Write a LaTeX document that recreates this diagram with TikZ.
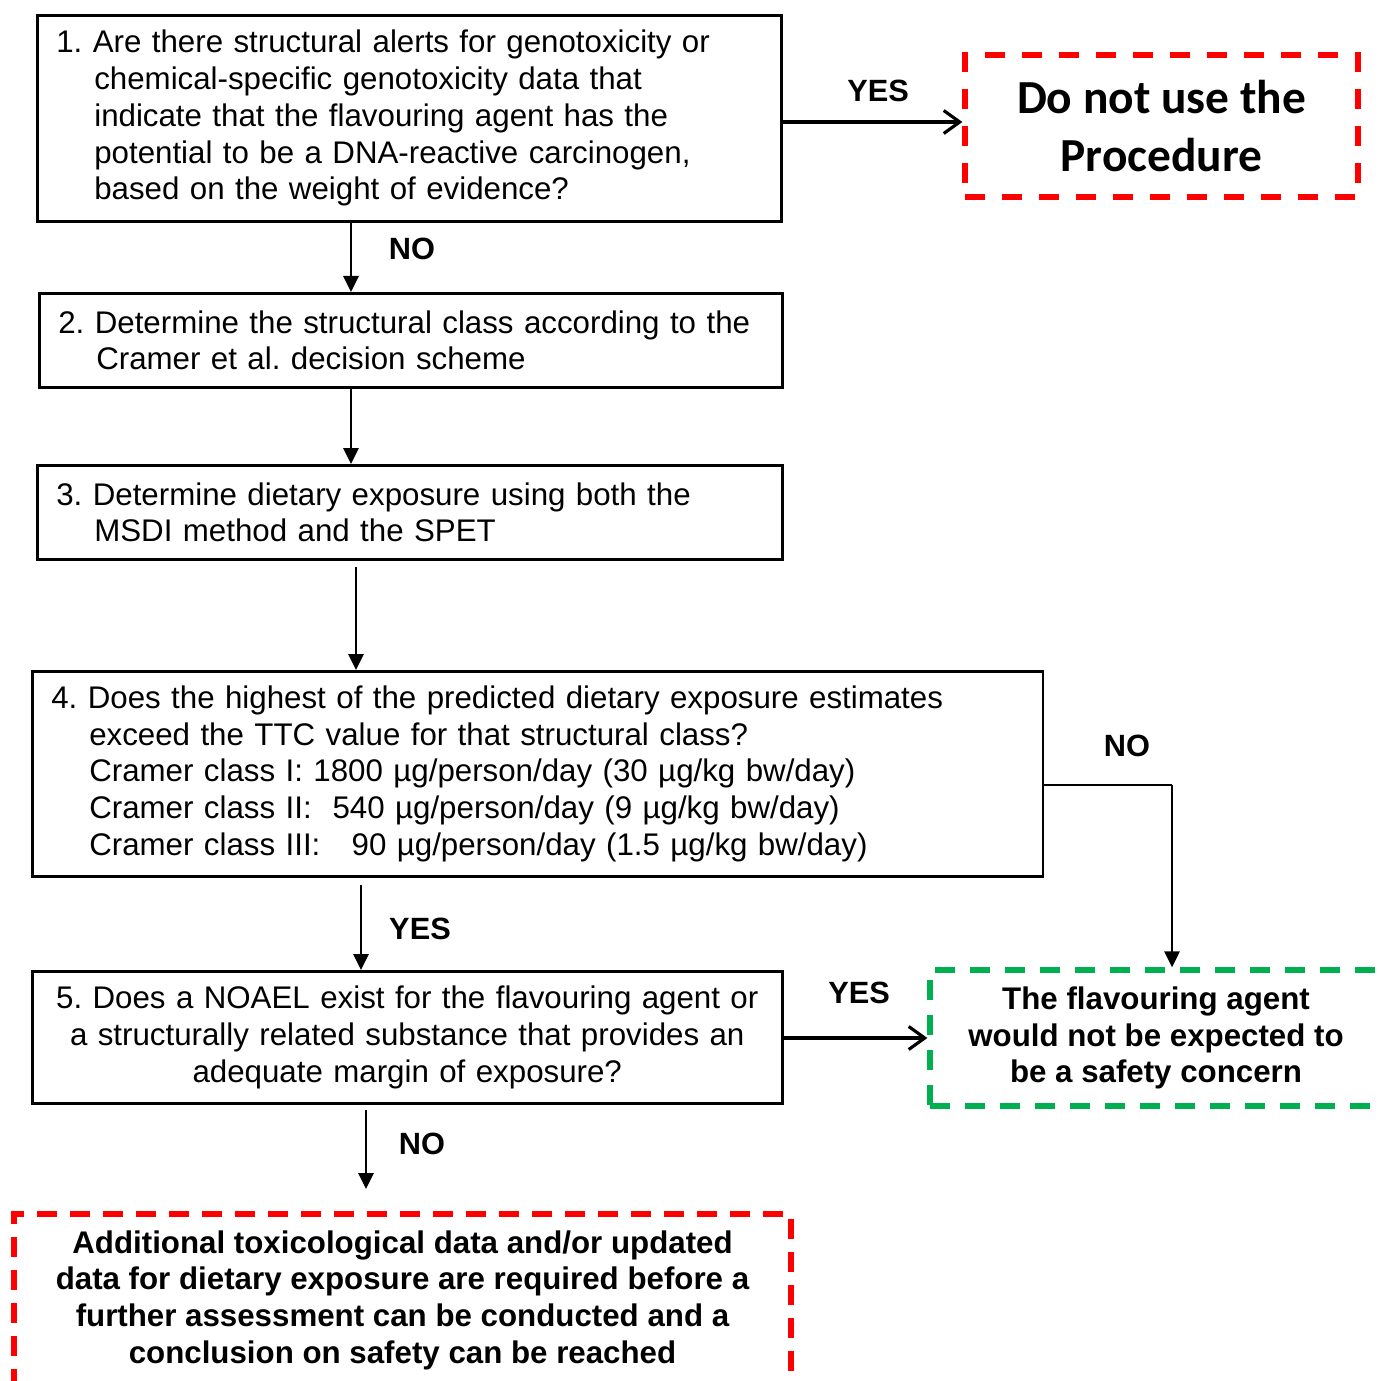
\documentclass[tikz,border=0pt]{standalone}
\usepackage{fontspec}
\setmainfont{Liberation Sans}
\newfontfamily\calfont{Carlito}
\usetikzlibrary{arrows.meta}
\frenchspacing

\definecolor{stopred}{RGB}{255,0,0}
\definecolor{safegreen}{RGB}{0,176,80}

\tikzset{
  qbox/.style={draw, line width=1.5pt, anchor=north west, align=left,
    inner xsep=0.38cm, font=\fontsize{17.8}{20.9}\selectfont},
  endbox/.style={draw, line width=3pt, align=center, inner sep=0pt},
  lbl/.style={font=\bfseries\fontsize{17.5}{20}\selectfont},
  down/.style={line width=1.6pt, -{Triangle[length=0.32cm,width=0.3cm]}},
  side/.style={line width=1.8pt, -{Straight Barb[length=0.32cm,width=0.46cm]}}
}
\newcommand\ind{\hspace*{0.76cm}}

\begin{document}
\begin{tikzpicture}[x=0.02cm, y=-0.02cm]
  \useasboundingbox (0,0) rectangle (1378,1381);

  % question boxes
  \node[qbox, text width=14.12cm, minimum height=4.12cm] (q1) at (36,14)
    {1. Are there structural alerts for genotoxicity or\\
     \ind chemical-specific genotoxicity data that\\
     \ind indicate that the flavouring agent has the\\
     \ind potential to be a DNA-reactive carcinogen,\\
     \ind based on the weight of evidence?};
  \node[qbox, text width=14.10cm, minimum height=1.88cm] (q2) at (38,292)
    {2. Determine the structural class according to the\\
     \ind Cramer et al. decision scheme};
  \node[qbox, text width=14.14cm, minimum height=1.88cm] (q3) at (36,464)
    {3. Determine dietary exposure using both the\\
     \ind MSDI method and the SPET};
  \node[qbox, text width=19.46cm, minimum height=4.10cm] (q4) at (31,670)
    {4. Does the highest of the predicted dietary exposure estimates\\
     \ind exceed the TTC value for that structural class?\\
     \ind Cramer class I: 1800 µg/person/day (30 µg/kg bw/day)\\
     \ind Cramer class II:~ 540 µg/person/day (9 µg/kg bw/day)\\
     \ind Cramer class III:~~ 90 µg/person/day (1.5 µg/kg bw/day)};
  \node[qbox, align=center, inner xsep=0.1cm, text width=14.8cm, minimum height=2.64cm] (q5) at (31,970)
    {5. Does a NOAEL exist for the flavouring agent or\\
     a structurally related substance that provides an\\
     adequate margin of exposure?};

  % outcome boxes
  \node[endbox, stopred, text=black, dash pattern=on 0.4cm off 0.34cm,
    minimum width=7.86cm, minimum height=2.84cm,
    font=\calfont\bfseries\fontsize{27}{33.5}\selectfont] (stop) at (1161.5,126)
    {Do not use the\\Procedure};
  \node[endbox, safegreen, text=black, dash pattern=on 0.4cm off 0.3cm,
    minimum width=9.04cm, minimum height=2.72cm,
    font=\bfseries\fontsize{17.8}{20.9}\selectfont] (safe) at (1156,1038)
    {The flavouring agent\\would not be expected to\\be a safety concern};
  \node[endbox, stopred, text=black, dash pattern=on 0.4cm off 0.26cm,
    minimum width=15.54cm, minimum height=3.44cm,
    font=\bfseries\fontsize{17.8}{20.9}\selectfont] (more) at (402.5,1300)
    {Additional toxicological data and/or updated\\
     data for dietary exposure are required before a\\
     further assessment can be conducted and a\\
     conclusion on safety can be reached};

  % connectors
  \coordinate (knee) at (1172,785);
  \coordinate (moretip) at (366,1189);
  \draw[down] (q1.south -| 351,0) -- (q2.north -| 351,0);
  \draw[down] (q2.south -| 351,0) -- (q3.north -| 351,0);
  \draw[down, shorten <=0.12cm] (q3.south -| 356,0) -- (q4.north -| 356,0);
  \draw[down, shorten <=0.14cm] (q4.south -| 361,0) -- (q5.north -| 361,0);
  \draw[down, shorten <=0.1cm] (q5.south -| moretip) -- (moretip);
  \draw[line width=1.6pt] (q4.east |- knee) -- (knee);
  \draw[down] (knee) -- (knee |- safe.north);
  \draw[side] (q1.east |- 0,122) -- (stop.west |- 0,122);
  \draw[side] (q5.east |- safe.west) -- (safe.west);

  % labels
  \node[lbl] (no1)  at (412,249)  {NO};
  \node[lbl] (yes1) at (878,91)   {YES};
  \node[lbl] (no4)  at (1127,746) {NO};
  \node[lbl] (yes4) at (420,929)  {YES};
  \node[lbl] (yes5) at (859,993)  {YES};
  \node[lbl] (no5)  at (422,1144) {NO};
\end{tikzpicture}
\end{document}
